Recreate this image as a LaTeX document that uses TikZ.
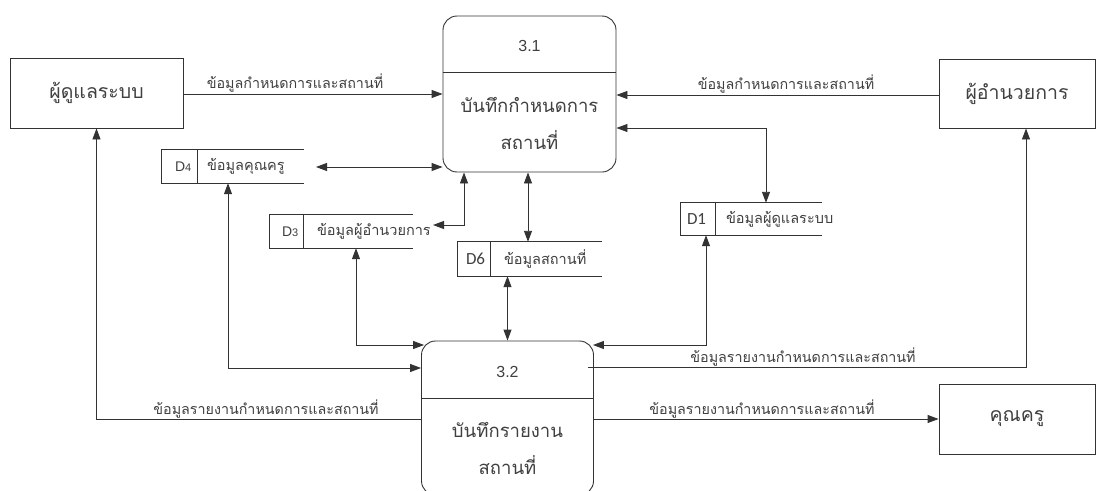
\documentclass[tikz,border=0pt]{standalone}
\usepackage{fontspec}
\setmainfont{Liberation Sans}
\newfontfamily\thai[Script=Thai]{Loma}
\newfontfamily\carlitofont{Carlito}
\usetikzlibrary{arrows.meta}
\definecolor{ln}{HTML}{333333}
\definecolor{tx}{HTML}{404040}
\tikzset{
  entity/.style={draw=ln, line width=0.9pt, rectangle, inner sep=0pt, font=\thai\fontsize{19.5}{22}\selectfont, text=tx},
  procbox/.style={draw=ln, line width=0.9pt, rectangle, rounded corners=14pt, inner sep=0pt},
  store/.style={rectangle, inner sep=0pt, minimum height=33pt},
  storeline/.style={draw=ln, line width=0.9pt},
  ptext/.style={font=\thai\fontsize{18.5}{22}\selectfont, text=tx, inner sep=0pt},
  pnum/.style={font=\fontsize{16}{19}\selectfont, text=tx, inner sep=0pt},
  sid/.style={font=\fontsize{14}{16}\selectfont, text=tx, inner sep=0pt, anchor=west},
  sidc/.style={font=\carlitofont\fontsize{17}{19}\selectfont, text=tx, inner sep=0pt, anchor=west},
  slabel/.style={font=\thai\fontsize{14.5}{17}\selectfont, text=tx, inner sep=0pt, anchor=west},
  flab/.style={font=\thai\fontsize{14.3}{17}\selectfont, text=tx, inner sep=0pt},
  arr/.style={draw=ln, line width=0.9pt, -{Triangle[length=11pt,width=8pt]}},
  biarr/.style={draw=ln, line width=0.9pt, {Triangle[length=11pt,width=8pt]}-{Triangle[length=11pt,width=8pt]}},
}
\newcommand{\smalldig}[1]{{\fontsize{11}{13}\selectfont #1}}
\begin{document}
\begin{tikzpicture}[x=1pt,y=-1pt]
\useasboundingbox[fill=white] (0,0) rectangle (1103,490);
\begin{scope}
\clip (0,0) rectangle (1103,490);
% entities
\node[entity, minimum width=173pt, minimum height=70pt] (ua) at (96.5,93) {ผู้ดูแลระบบ};
\node[entity, minimum width=156pt, minimum height=69pt] (dir) at (1017,93.5) {ผู้อำนวยการ};
\node[entity, minimum width=156pt, minimum height=70pt] (teach) at (1017,419) {คุณครู};
% processes
\node[procbox, minimum width=173pt, minimum height=156pt] (p1) at (529.5,94) {};
\draw[storeline] (p1.west |- 0,72) -- (p1.east |- 0,72);
\node[pnum] (p1n) at (529.5,46) {3.1};
\node[ptext] (p1a) at (529.5,105) {บันทึกกำหนดการ};
\node[ptext] (p1b) at (529.5,140) {สถานที่};
\node[procbox, minimum width=172pt, minimum height=154pt] (p2) at (507.5,418) {};
\draw[storeline] (p2.west |- 0,398) -- (p2.east |- 0,398);
\node[pnum] (p2n) at (507.5,372) {3.2};
\node[ptext] (p2a) at (507.5,430) {บันทึกรายงาน};
\node[ptext] (p2b) at (507.5,465) {สถานที่};
% data stores
\node[store, minimum width=142pt] (d4) at (233,166.5) {};
\draw[storeline] (d4.north east) -- (d4.north west) -- (d4.south west) -- (d4.south east);
\draw[storeline] ([xshift=36pt]d4.north west) -- ([xshift=36pt]d4.south west);
\node[sid] (d4i) at ([xshift=13pt]d4.west) {D\smalldig{4}};
\node[slabel] (d4l) at ([xshift=45pt]d4.west) {ข้อมูลคุณครู};
\node[store, minimum width=143pt] (d3) at (341.5,231.5) {};
\draw[storeline] (d3.north east) -- (d3.north west) -- (d3.south west) -- (d3.south east);
\draw[storeline] ([xshift=34pt]d3.north west) -- ([xshift=34pt]d3.south west);
\node[sid] (d3i) at ([xshift=12pt]d3.west) {D\smalldig{3}};
\node[slabel] (d3l) at ([xshift=47pt]d3.west) {ข้อมูลผู้อำนวยการ};
\node[store, minimum width=144pt, minimum height=34pt] (d6) at (530,259) {};
\draw[storeline] (d6.north east) -- (d6.north west) -- (d6.south west) -- (d6.south east);
\draw[storeline] ([xshift=33pt]d6.north west) -- ([xshift=33pt]d6.south west);
\node[sidc] (d6i) at ([xshift=8pt]d6.west) {D6};
\node[slabel] (d6l) at ([xshift=46pt]d6.west) {ข้อมูลสถานที่};
\node[store, minimum width=141pt, minimum height=32pt] (d1) at (751.5,219) {};
\draw[storeline] (d1.north east) -- (d1.north west) -- (d1.south west) -- (d1.south east);
\draw[storeline] ([xshift=35pt]d1.north west) -- ([xshift=35pt]d1.south west);
\node[sidc] (d1i) at ([xshift=6pt]d1.west) {D1};
\node[slabel] (d1l) at ([xshift=45pt]d1.west) {ข้อมูลผู้ดูแลระบบ};
% free ends
\coordinate (d4e) at (316,167);
\coordinate (d3e) at (433,225);
% flows
\draw[arr] (ua.east |- 0,94) -- (p1.west |- 0,94);
\node[flab] (la) at (295,83) {ข้อมูลกำหนดการและสถานที่};
\draw[arr] (dir.west |- 0,95) -- (p1.east |- 0,95);
\node[flab] (lb) at (786,84) {ข้อมูลกำหนดการและสถานที่};
\draw[biarr] (p1.east |- 0,128) -| ([xshift=14.5pt]d1.north);
\draw[biarr] ([xshift=-45.5pt]d1.south) |- ([xshift=-1pt]p2.east |- 0,345);
\draw[arr] ([xshift=-6pt]p2.east |- 0,367) -| ([xshift=9pt]dir.south);
\node[flab] (le) at (803,357) {ข้อมูลรายงานกำหนดการและสถานที่};
\draw[arr] (p2.east |- 0,419) -- (teach.west |- 0,419);
\node[flab] (lf) at (762,409) {ข้อมูลรายงานกำหนดการและสถานที่};
\draw[arr] (p2.west |- 0,419) -| (ua.south);
\node[flab] (lg) at (266,409) {ข้อมูลรายงานกำหนดการและสถานที่};
\draw[biarr] ([xshift=-5pt]d4.south) |- (p2.west |- 0,368);
\draw[biarr] (d4e) -- (p1.west |- d4e);
\draw[biarr] (d3e) -| ([xshift=-65.5pt]p1.south);
\draw[biarr] ([xshift=14.5pt]d3.south) |- ([xshift=3pt]p2.west |- 0,345);
\draw[biarr] ([xshift=-1.5pt]p1.south) -- ([xshift=-2pt]d6.north);
\draw[biarr] (p2.north) -- (p2.north |- d6.south);
\end{scope}
\end{tikzpicture}
\end{document}
